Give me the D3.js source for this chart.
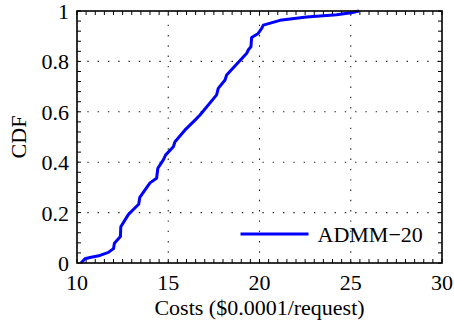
<!DOCTYPE html>
<html>
<head>
<meta charset="utf-8">
<script src="https://cdn.jsdelivr.net/npm/d3@7/dist/d3.min.js"></script>
<style>
  html, body { margin: 0; padding: 0; background: #fff; }
  svg text { font-family: "Liberation Serif", "Times New Roman", serif; fill: #000; }
</style>
</head>
<body>
<svg id="chart" width="454" height="321"></svg>
<script>
// Empirical CDF of per-request cost for ADMM-20
const seriesName = "ADMM\u221220";
const costs = [10.22, 10.44, 10.71, 11.26, 11.72, 12.0, 12.05, 12.38, 12.40, 12.82,
               13.38, 13.44, 14.0, 14.36, 14.43, 14.73, 14.86, 15.28, 15.37, 15.92,
               16.47, 16.74, 17.65, 17.74, 18.11, 18.2, 19.3, 19.38, 19.53, 19.57,
               19.93, 20.12, 20.21, 21.12, 22.58, 24.23, 25.1, 25.45];
const cdf = [0, 0.017, 0.022, 0.03, 0.042, 0.057, 0.078, 0.105, 0.144, 0.193,
             0.233, 0.26, 0.318, 0.336, 0.376, 0.409, 0.429, 0.461, 0.481, 0.528,
             0.567, 0.587, 0.667, 0.693, 0.726, 0.746, 0.832, 0.845, 0.858, 0.895,
             0.911, 0.931, 0.944, 0.963, 0.976, 0.985, 0.994, 1.0];
const xTicks = [10, 15, 20, 25, 30];
const yTicks = [0, 0.2, 0.4, 0.6, 0.8, 1];
const xTickLabels = ["10", "15", "20", "25", "30"];
const yTickLabels = ["0", "0.2", "0.4", "0.6", "0.8", "1"];
const xLabel = "Costs ($0.0001/request)";
const yLabel = "CDF";

const W = 454, H = 321;
const m = { left: 77, top: 11, right: 12, bottom: 58 };
const iw = W - m.left - m.right, ih = H - m.top - m.bottom;

const svg = d3.select("#chart");
const g = svg.append("g").attr("transform", `translate(${m.left},${m.top})`);

const x = d3.scaleLinear().domain([10, 30]).range([0, iw]);
const y = d3.scaleLinear().domain([0, 1]).range([ih, 0]);

// dotted grid at major ticks
const gridStyle = s => s.attr("stroke", "#222").attr("stroke-width", 1.1)
  .attr("stroke-dasharray", "1.4 8.9").attr("fill", "none");
g.append("g").selectAll("line").data(xTicks.slice(1, -1)).join("line")
  .attr("x1", d => x(d)).attr("x2", d => x(d)).attr("y1", ih).attr("y2", 0)
  .call(gridStyle);
g.append("g").selectAll("line").data(yTicks.slice(1, -1)).join("line")
  .attr("x1", 0).attr("x2", iw).attr("y1", d => y(d)).attr("y2", d => y(d))
  .call(gridStyle);

// inward ticks on all four sides
const tickLen = 4;
const xMinor = d3.range(10, 30.001, 0.5);
const yMinor = d3.range(0, 1.0001, 0.04);
const tk = g.append("g").attr("stroke", "#000").attr("stroke-width", 1);
tk.selectAll(".xb").data(xMinor).join("line").attr("class", "xb")
  .attr("x1", d => x(d)).attr("x2", d => x(d)).attr("y1", ih).attr("y2", ih - tickLen);
tk.selectAll(".xt").data(xMinor).join("line").attr("class", "xt")
  .attr("x1", d => x(d)).attr("x2", d => x(d)).attr("y1", 0).attr("y2", tickLen);
tk.selectAll(".yl").data(yMinor).join("line").attr("class", "yl")
  .attr("y1", d => y(d)).attr("y2", d => y(d)).attr("x1", 0).attr("x2", tickLen);
tk.selectAll(".yr").data(yMinor).join("line").attr("class", "yr")
  .attr("y1", d => y(d)).attr("y2", d => y(d)).attr("x1", iw).attr("x2", iw - tickLen);

// tick labels
g.append("g").selectAll("text").data(xTicks).join("text")
  .attr("x", d => x(d)).attr("y", ih + 27)
  .attr("text-anchor", "middle").attr("font-size", 22)
  .text((d, i) => xTickLabels[i]);
g.append("g").selectAll("text").data(yTicks).join("text")
  .attr("x", -8).attr("y", d => y(d) + 8)
  .attr("text-anchor", "end").attr("font-size", 22)
  .text((d, i) => yTickLabels[i]);

// CDF curve
const pts = costs.map((c, i) => [c, cdf[i]]);
g.append("path").datum(pts)
  .attr("fill", "none").attr("stroke", "#0000ff").attr("stroke-width", 3)
  .attr("stroke-linejoin", "round")
  .attr("d", d3.line().x(d => x(d[0])).y(d => y(d[1])));

// axes box
g.append("rect").attr("x", 0).attr("y", 0).attr("width", iw).attr("height", ih)
  .attr("fill", "none").attr("stroke", "#000").attr("stroke-width", 1.6);

// legend
const lg = g.append("g").attr("transform", `translate(${x(18.96)},${y(0.115)})`);
lg.append("line").attr("x1", 0).attr("x2", 68).attr("y1", 0).attr("y2", 0)
  .attr("stroke", "#0000ff").attr("stroke-width", 3);
lg.append("text").attr("x", 77).attr("y", 8).attr("font-size", 22).text(seriesName);

// axis titles
svg.append("text").attr("x", m.left + iw / 2).attr("y", 315)
  .attr("text-anchor", "middle").attr("font-size", 22).text(xLabel);
svg.append("text")
  .attr("transform", `translate(26,${m.top + ih / 2}) rotate(-90)`)
  .attr("text-anchor", "middle").attr("font-size", 22).text(yLabel);
</script>
</body>
</html>
